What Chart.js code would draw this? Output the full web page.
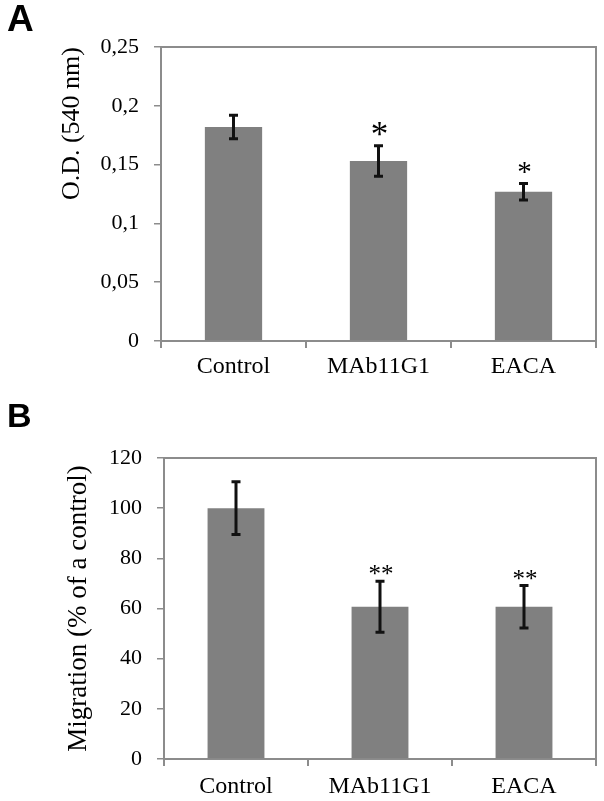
<!DOCTYPE html>
<html><head><meta charset="utf-8">
<script src="https://cdn.jsdelivr.net/npm/chart.js@4.4.0/dist/chart.umd.min.js"></script>
<style>
html,body{margin:0;padding:0;background:#fff;width:604px;height:801px;overflow:hidden;}
.panel{position:absolute;left:0;width:604px;}
canvas{display:block;}
.lbl{position:absolute;font-family:"Liberation Sans",Arial,sans-serif;font-weight:bold;line-height:1;color:#000;}
</style></head><body>
<div class="panel" style="top:0;height:390px"><canvas id="cA" width="604" height="390"></canvas></div>
<div class="panel" style="top:390px;height:411px"><canvas id="cB" width="604" height="411"></canvas></div>
<div class="lbl" style="left:7px;top:0px;font-size:37px">A</div>
<div class="lbl" style="left:7px;top:398px;font-size:34px">B</div>
<script>
// ---- data ----
const categories = ['Control', 'MAb11G1', 'EACA'];

const odValues = [0.182, 0.153, 0.127];
const odErrors = [0.010, 0.013, 0.007];
const odStars = ['', '*', '*'];
const odTickLabels = ['0', '0,05', '0,1', '0,15', '0,2', '0,25'];

const migrationValues = [100, 60.7, 60.7];
const migrationErrors = [10.5, 10.2, 8.5];
const migrationStars = ['', '**', '**'];
const migrationTickLabels = ['0', '20', '40', '60', '80', '100', '120'];

// ---- styling ----
const AXIS_GRAY = '#8c8c8c';
const BAR_GRAY = '#808080';
const SERIF = '"Liberation Serif","Times New Roman",serif';

const errorBarPlugin = {
  id: 'errorBars',
  afterDatasetsDraw(chart, args, opts) {
    const ctx = chart.ctx;
    const meta = chart.getDatasetMeta(0);
    const ys = chart.scales.y;
    const values = chart.data.datasets[0].data;
    ctx.save();
    // frame (top & right)
    const ca = chart.chartArea;
    ctx.strokeStyle = AXIS_GRAY;
    ctx.lineWidth = 2;
    ctx.beginPath();
    ctx.moveTo(ca.left, ca.top);
    ctx.lineTo(ca.right, ca.top);
    ctx.lineTo(ca.right, ca.bottom);
    ctx.stroke();
    meta.data.forEach((bar, i) => {
      const v = values[i], e = opts.errors[i];
      const x = bar.x;
      const yTop = ys.getPixelForValue(v + e);
      const yBot = ys.getPixelForValue(v - e);
      ctx.strokeStyle = '#111';
      ctx.lineWidth = 3;
      ctx.beginPath();
      ctx.moveTo(x, yTop); ctx.lineTo(x, yBot);
      ctx.moveTo(x - 4.5, yTop); ctx.lineTo(x + 4.5, yTop);
      ctx.moveTo(x - 4.5, yBot); ctx.lineTo(x + 4.5, yBot);
      ctx.stroke();
      const s = opts.stars[i];
      if (s) {
        const size = opts.starSizes[i];
        ctx.fillStyle = '#000';
        ctx.font = size + 'px ' + SERIF;
        ctx.textAlign = 'center';
        ctx.textBaseline = 'alphabetic';
        ctx.fillText(s, x + 1, yTop - opts.starGap + 0.47 * size);
      }
    });
    ctx.restore();
  }
};

function makeChart(id, values, errors, stars, starSizes, starGap, tickLabels, max, step,
                   title, titleAlign, titleSize, titlePad, padTop, yWidth, xHeight, xPad) {
  return new Chart(document.getElementById(id), {
    type: 'bar',
    data: {
      labels: categories,
      datasets: [{
        data: values,
        backgroundColor: BAR_GRAY,
        borderWidth: 0,
        categoryPercentage: 1,
        barPercentage: 0.395
      }]
    },
    options: {
      responsive: false,
      animation: false,
      layout: { padding: { left: 0, top: padTop, right: 8, bottom: 0 } },
      plugins: {
        legend: { display: false },
        tooltip: { enabled: false },
        errorBars: { errors, stars, starSizes, starGap }
      },
      scales: {
        x: {
          grid: { display: true, drawOnChartArea: false, drawTicks: true, tickLength: 7,
                  color: AXIS_GRAY, lineWidth: 2, offset: true },
          border: { display: true, color: AXIS_GRAY, width: 2 },
          ticks: { color: '#000', font: { family: SERIF, size: 24 }, padding: xPad, maxRotation: 0 },
          afterFit(scale) { scale.height = xHeight; }
        },
        y: {
          min: 0, max: max,
          grid: { display: true, drawOnChartArea: false, drawTicks: true, tickLength: 7,
                  color: AXIS_GRAY, lineWidth: 1.5 },
          border: { display: true, color: AXIS_GRAY, width: 2 },
          ticks: {
            stepSize: step, color: '#000', padding: 15,
            font: { family: SERIF, size: 22 },
            callback: (v, i) => tickLabels[i]
          },
          title: {
            display: true, text: title, align: titleAlign, color: '#000',
            font: { family: SERIF, size: titleSize, lineHeight: 1 },
            padding: { top: titlePad, bottom: 0 }
          },
          afterFit(scale) { scale.width = yWidth; }
        }
      }
    },
    plugins: [errorBarPlugin]
  });
}

makeChart('cA', odValues, odErrors, odStars, [0, 35, 29], 16, odTickLabels, 0.25, 0.05,
          'O.D. (540 nm)', 'end', 26, 59, 47, 161, 49, 4);
makeChart('cB', migrationValues, migrationErrors, migrationStars, [0, 25, 25], 10.5, migrationTickLabels, 120, 20,
          'Migration (% of a control)', 'center', 27, 65, 68, 164, 42, 6);
</script>
</body></html>
